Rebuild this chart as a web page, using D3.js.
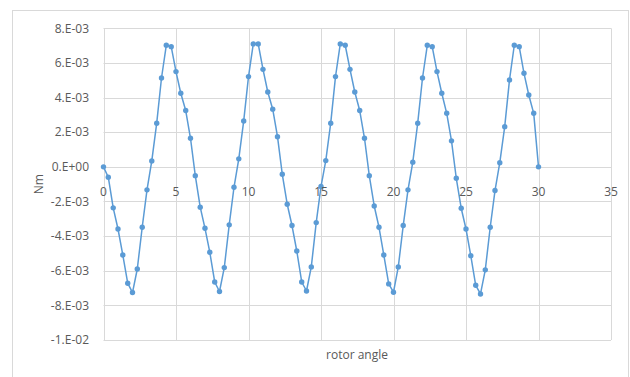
<!DOCTYPE html>
<html>
<head>
<meta charset="utf-8">
<script src="https://cdn.jsdelivr.net/npm/d3@7"></script>
<style>
  html, body { margin: 0; padding: 0; background: #fff; }
  svg { display: block; font-family: "Open Sans", "Noto Sans", sans-serif; }
</style>
</head>
<body>
<svg id="chart" width="630" height="377"></svg>
<script>
// Rotor angle samples (x) and cogging torque in units of 1e-3 Nm (y)
const angles = [
  0, 0.33, 0.67, 1, 1.33, 1.67, 2, 2.33, 2.67, 3, 3.33, 3.67, 4, 4.33, 4.67,
  5, 5.33, 5.67, 6, 6.33, 6.67, 7, 7.33, 7.67, 8, 8.33, 8.67, 9, 9.33, 9.67,
  10, 10.33, 10.67, 11, 11.33, 11.67, 12, 12.33, 12.67, 13, 13.33, 13.67, 14, 14.33, 14.67,
  15, 15.33, 15.67, 16, 16.33, 16.67, 17, 17.33, 17.67, 18, 18.33, 18.67, 19, 19.33, 19.67,
  20, 20.33, 20.67, 21, 21.33, 21.67, 22, 22.33, 22.67, 23, 23.33, 23.67, 24, 24.33, 24.67,
  25, 25.33, 25.67, 26, 26.33, 26.67, 27, 27.33, 27.67, 28, 28.33, 28.67, 29, 29.33, 29.67,
  30
];
const torque = [
  0, -0.60, -2.37, -3.59, -5.09, -6.72, -7.26, -5.90, -3.49, -1.33, 0.34, 2.52, 5.13, 7.02, 6.94,
  5.50, 4.25, 3.25, 1.65, -0.51, -2.33, -3.55, -4.93, -6.65, -7.20, -5.82, -3.35, -1.18, 0.46, 2.65,
  5.21, 7.10, 7.10, 5.63, 4.32, 3.33, 1.74, -0.43, -2.16, -3.39, -4.86, -6.65, -7.17, -5.78, -3.22,
  -1.14, 0.36, 2.52, 5.21, 7.10, 7.02, 5.63, 4.32, 3.25, 1.65, -0.51, -2.26, -3.49, -5.09, -6.76,
  -7.24, -5.78, -3.39, -1.33, 0.27, 2.52, 5.13, 7.02, 6.94, 5.50, 4.25, 3.09, 1.50, -0.66, -2.39,
  -3.59, -5.13, -6.84, -7.34, -5.95, -3.49, -1.37, 0.24, 2.32, 5.02, 7.02, 6.94, 5.40, 4.15, 3.09,
  0
];
const xTicks = [0, 5, 10, 15, 20, 25, 30, 35];
const yTicks = [-10, -8, -6, -4, -2, 0, 2, 4, 6, 8];
const yTickLabels = ["-1.E-02", "-8.E-03", "-6.E-03", "-4.E-03", "-2.E-03",
                     "0.E+00", "2.E-03", "4.E-03", "6.E-03", "8.E-03"];
const xTitle = "rotor angle";
const yTitle = "Nm";

const svg = d3.select("#chart");
const lineColor = "#5b9bd5";
const gridColor = "#d9d9d9";
const textColor = "#595959";

// chart frame
svg.append("rect")
  .attr("x", 12.5).attr("y", 10.5)
  .attr("width", 616).attr("height", 380)
  .attr("fill", "#fff").attr("stroke", gridColor).attr("stroke-width", 1);

const x = d3.scaleLinear().domain([0, 35]).range([103.5, 611]);
const y = d3.scaleLinear().domain([-10, 8]).range([340, 28.3]);

// horizontal gridlines
svg.append("g").selectAll("line").data(yTicks).join("line")
  .attr("x1", x(0)).attr("x2", x(35))
  .attr("y1", d => Math.round(y(d)) + 0.5).attr("y2", d => Math.round(y(d)) + 0.5)
  .attr("stroke", gridColor).attr("stroke-width", 1);

// vertical gridlines
svg.append("g").selectAll("line").data(xTicks).join("line")
  .attr("x1", d => Math.round(x(d)) + 0.5).attr("x2", d => Math.round(x(d)) + 0.5)
  .attr("y1", y(8)).attr("y2", y(-10))
  .attr("stroke", gridColor).attr("stroke-width", 1);

// y tick labels
svg.append("g").selectAll("text").data(yTicks).join("text")
  .attr("x", 89).attr("y", d => y(d))
  .attr("dy", "0.35em")
  .attr("text-anchor", "end")
  .attr("font-size", 12)
  .attr("fill", textColor)
  .text((d, i) => yTickLabels[i]);

// axis titles
svg.append("text")
  .attr("x", 357).attr("y", 355)
  .attr("dy", "0.35em")
  .attr("text-anchor", "middle")
  .attr("font-size", 12)
  .attr("fill", textColor)
  .text(xTitle);

svg.append("text")
  .attr("transform", `translate(39,${(y(8) + y(-10)) / 2}) rotate(-90)`)
  .attr("dy", "0.35em")
  .attr("text-anchor", "middle")
  .attr("font-size", 12)
  .attr("fill", textColor)
  .text(yTitle);

// series
const pts = angles.map((a, i) => [a, torque[i]]);
const line = d3.line().x(d => x(d[0])).y(d => y(d[1]));

svg.append("path")
  .datum(pts)
  .attr("d", line)
  .attr("fill", "none")
  .attr("stroke", lineColor)
  .attr("stroke-width", 1.5)
  .attr("stroke-linejoin", "round");

svg.append("g").selectAll("circle").data(pts).join("circle")
  .attr("cx", d => x(d[0])).attr("cy", d => y(d[1]))
  .attr("r", 2.7)
  .attr("fill", lineColor);

// x tick labels sit on top of the series, just below the zero line
svg.append("g").selectAll("text").data(xTicks).join("text")
  .attr("x", d => x(d)).attr("y", y(0) + 25)
  .attr("dy", "0.35em")
  .attr("text-anchor", "middle")
  .attr("font-size", 12)
  .attr("fill", textColor)
  .text(d => d);
</script>
</body>
</html>
